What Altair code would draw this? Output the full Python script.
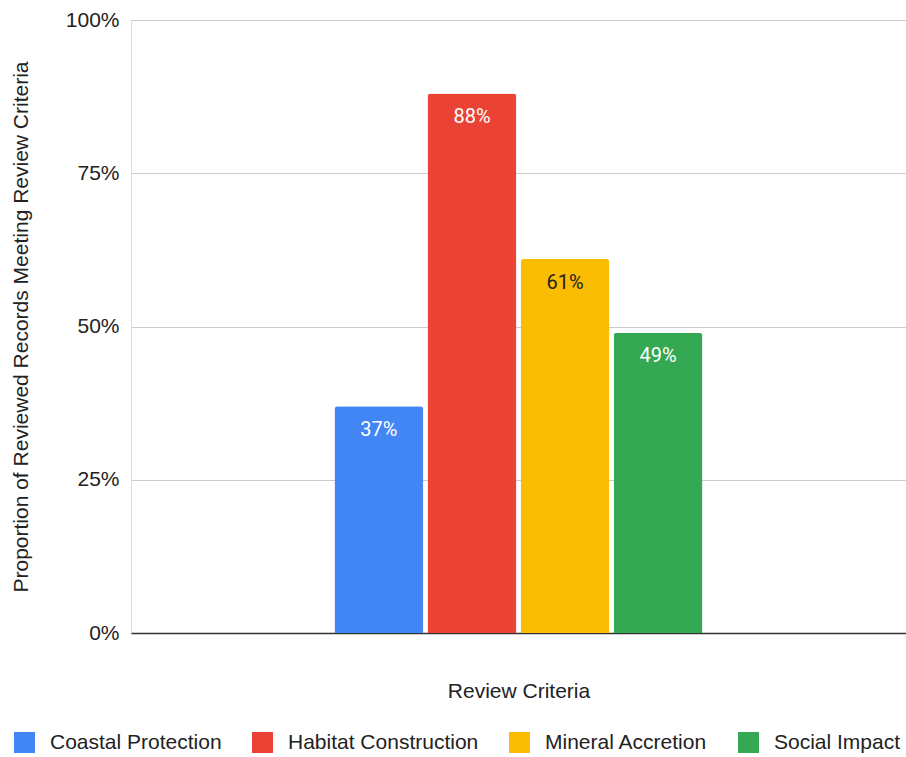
import altair as alt
import pandas as pd

series = ["Coastal Protection", "Habitat Construction", "Mineral Accretion", "Social Impact"]
values = [0.37, 0.88, 0.61, 0.49]
colors = ["#4285F4", "#EA4335", "#FBBC04", "#34A853"]
label_colors = ["#ffffff", "#ffffff", "#222222", "#ffffff"]

df = pd.DataFrame({
    "group": ["Review Criteria"] * len(series),
    "series": series,
    "value": values,
    "lc": label_colors,
})

FONT = "Liberation Sans"
VFONT = "Roboto"

x_enc = alt.X("group:N", title="Review Criteria",
              scale=alt.Scale(paddingInner=0, paddingOuter=0.553),
              axis=alt.Axis(labels=False, ticks=False, domain=True, domainColor="#333333",
                            domainWidth=1.6, titleFontSize=21, titleFont=FONT,
                            titleFontWeight="normal", titleColor="#222222", titlePadding=47))
xo = alt.XOffset("series:N", sort=series, scale=alt.Scale(paddingInner=0.045, paddingOuter=0))
y_enc = alt.Y("value:Q", title="Proportion of Reviewed Records Meeting Review Criteria",
              scale=alt.Scale(domain=[0, 1]),
              axis=alt.Axis(format=".0%", values=[0, 0.25, 0.5, 0.75, 1], ticks=False, domain=False,
                            gridColor="#cccccc", labelFontSize=21, labelFont=FONT, labelColor="#222222",
                            labelPadding=12, titleFontSize=21, titleFont=FONT, titleFontWeight="normal",
                            titleColor="#222222", titlePadding=34))

bars = alt.Chart(df).mark_bar(cornerRadiusTopLeft=3, cornerRadiusTopRight=3).encode(
    x=x_enc, xOffset=xo, y=y_enc,
    color=alt.Color("series:N", sort=series, scale=alt.Scale(domain=series, range=colors),
                    legend=alt.Legend(title=None, orient="none", direction="horizontal",
                                      legendX=-117, legendY=712, symbolType="square",
                                      symbolSize=441, symbolStrokeWidth=0, labelFontSize=21,
                                      labelFont=FONT, labelColor="#222222", labelOffset=15,
                                      labelLimit=400, columnPadding=30, columns=4)),
)

text = alt.Chart(df).mark_text(dy=23.5, fontSize=20, font=VFONT, baseline="middle").encode(
    x=alt.X("group:N"), xOffset=xo, y=alt.Y("value:Q"),
    text=alt.Text("value:Q", format=".0%"),
    color=alt.Color("lc:N", scale=None, legend=None),
)

chart = alt.layer(bars, text).properties(
    width=775, height=613,
    autosize=alt.AutoSizeParams(type="none"),
    padding={"left": 131, "top": 20, "right": 0, "bottom": 124},
).configure_view(stroke=None).configure(background="white")

chart.save("out.html", embed_options={"renderer": "svg", "actions": False})
